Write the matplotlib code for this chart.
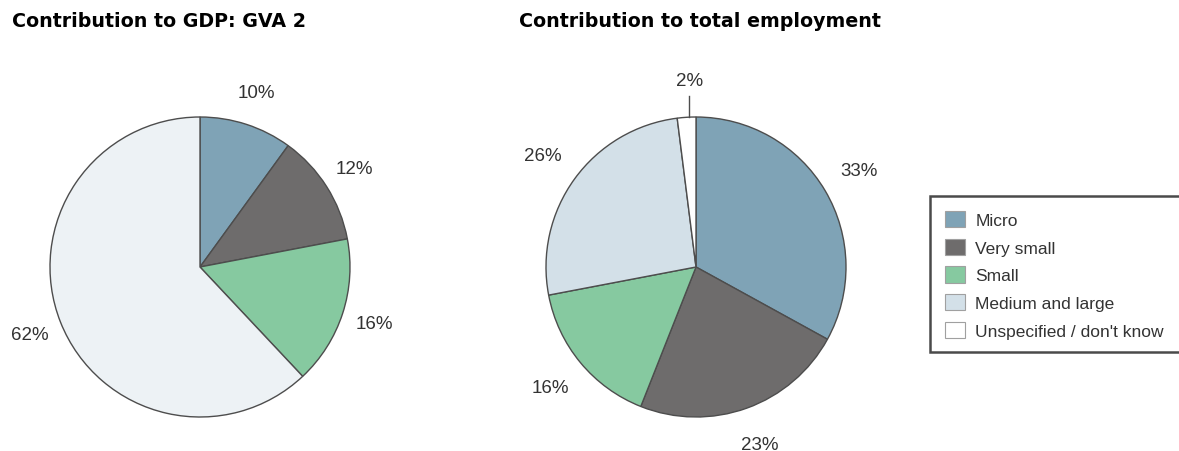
import matplotlib
matplotlib.use("Agg")
import matplotlib.pyplot as plt
from matplotlib.patches import Patch, Rectangle
import numpy as np

plt.rcParams['font.family'] = ['Liberation Sans', 'DejaVu Sans']

categories = ['Micro', 'Very small', 'Small', 'Medium and large', 'Unspecified / don\'t know']
gva_share = [10, 12, 16, 62]
employment_share = [33, 23, 16, 26, 2]

colors = ['#7fa3b6', '#6e6c6c', '#86c9a0', '#d3e0e8', '#ffffff']
gva_colors = ['#7fa3b6', '#6e6c6c', '#86c9a0', '#edf2f5']

W, H = 1179, 452
fig = plt.figure(figsize=(W / 100, H / 100), dpi=100)


def pie_axes(cx, cy, r):
    # one data unit = r pixels, centred on (cx, cy) measured from the top-left
    half = 1.3 * r
    return fig.add_axes([(cx - half) / W, (H - cy - half) / H, 2 * half / W, 2 * half / H])


def draw_pie(ax, values, cols, dist, skip_last=False):
    wedges, _ = ax.pie(values, colors=cols, startangle=90, counterclock=False,
                       wedgeprops=dict(edgecolor='#4d4d4d', linewidth=1.0))
    ax.set_xlim(-1.3, 1.3)
    ax.set_ylim(-1.3, 1.3)
    ax.set_aspect('equal')
    ax.axis('off')
    n = len(values) - 1 if skip_last else len(values)
    for w, v in list(zip(wedges, values))[:n]:
        a = np.deg2rad((w.theta1 + w.theta2) / 2)
        ax.text(dist * np.cos(a), dist * np.sin(a), f'{v}%', ha='center', va='center',
                fontsize=13.5, color='#333333', clip_on=False)
    return wedges


# left pie: GVA
ax1 = pie_axes(200, 268, 150)
draw_pie(ax1, gva_share, gva_colors, 1.22)

# right pie: employment
ax2 = pie_axes(696, 268, 150)
wedges = draw_pie(ax2, employment_share, colors, 1.26, skip_last=True)

# small slice gets a vertical leader line with its label above
a = np.deg2rad((wedges[-1].theta1 + wedges[-1].theta2) / 2)
lx = np.cos(a) * 0.7
ax2.plot([lx, lx], [0.999, 1.14], color='#4d4d4d', lw=1.0, clip_on=False)
ax2.text(lx, 1.24, f'{employment_share[-1]}%', ha='center', va='center',
         fontsize=13.5, color='#333333', clip_on=False)

fig.text(12 / W, 1 - 27 / H, 'Contribution to GDP: GVA 2', fontsize=13.7, fontweight='bold',
         family='DejaVu Sans', va='baseline', ha='left')
fig.text(519 / W, 1 - 27 / H, 'Contribution to total employment', fontsize=13.7, fontweight='bold',
         family='DejaVu Sans', va='baseline', ha='left')

# legend box runs off the right edge
fig.patches.append(Rectangle((930 / W, 1 - 353 / H), 300 / W, 156 / H, transform=fig.transFigure,
                             facecolor='white', edgecolor='#4a4a4a', linewidth=1.8, zorder=0))
handles = [Patch(facecolor=c, edgecolor='#a0a0a0', linewidth=0.8) for c in colors]
leg = fig.legend(handles, categories, loc='upper left', bbox_to_anchor=(945 / W, 1 - 212 / H),
                 fontsize=12.5, frameon=False, handlelength=1.15, handleheight=1.05,
                 labelspacing=0.62, handletextpad=0.6, borderpad=0, borderaxespad=0)
for t in leg.get_texts():
    t.set_color('#333333')

fig.savefig('out.png', dpi=100, facecolor='white')
